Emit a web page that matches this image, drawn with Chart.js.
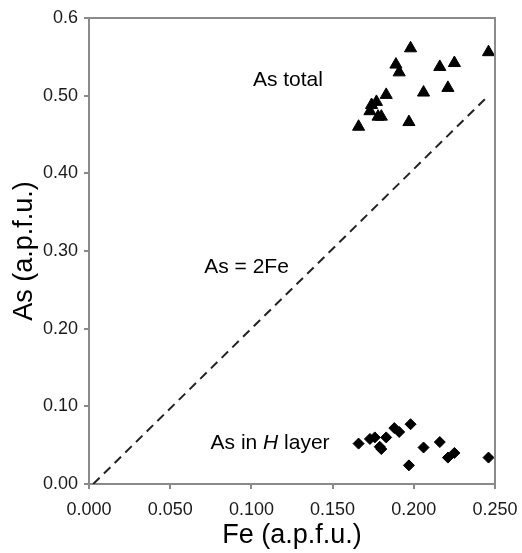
<!DOCTYPE html>
<html>
<head>
<meta charset="utf-8">
<script src="https://cdn.jsdelivr.net/npm/chart.js@4/dist/chart.umd.min.js"></script>
<style>
  html, body { margin: 0; padding: 0; background: #fff; }
  #wrap { width: 522px; height: 553px; position: relative; }
</style>
</head>
<body>
<div id="wrap"><canvas id="chart"></canvas></div>
<script>
// As total (triangles)
const feTotal = [0.198, 0.246, 0.225, 0.216, 0.189, 0.191, 0.221, 0.206, 0.183, 0.177, 0.174, 0.173, 0.178, 0.180, 0.197, 0.166];
const asTotal = [0.561, 0.556, 0.542, 0.537, 0.540, 0.530, 0.510, 0.504, 0.501, 0.492, 0.488, 0.480, 0.473, 0.473, 0.466, 0.460];

// As in H layer (diamonds)
const feH = [0.166, 0.173, 0.176, 0.179, 0.180, 0.183, 0.188, 0.191, 0.198, 0.197, 0.206, 0.216, 0.221, 0.225, 0.246];
const asH = [0.052, 0.058, 0.060, 0.048, 0.045, 0.060, 0.072, 0.067, 0.077, 0.024, 0.047, 0.054, 0.034, 0.040, 0.034];

// As = 2Fe reference line
const lineFe = [0.0026, 0.246];
const lineAs = [0, 0.5];

const xTickLabels = ["0.000", "0.050", "0.100", "0.150", "0.200", "0.250"];
const yTickLabels = ["0.00", "0.10", "0.20", "0.30", "0.40", "0.50", "0.6"];

// annotation text, anchored in data units
const notes = [
  { x: 0.1225, y: 0.520, parts: [["As total", "normal"]] },
  { x: 0.097, y: 0.279, parts: [["As = 2Fe", "normal"]] },
  { x: 0.1115, y: 0.053, parts: [["As in ", "normal"], ["H", "italic"], [" layer", "normal"]] }
];

const FONT = "'Liberation Sans', Arial, sans-serif";
const AXIS = "#8a8a8a";

function pts(xs, ys) {
  return xs.map((x, i) => ({ x: x, y: ys[i] }));
}

const framePlugin = {
  id: "frame",
  afterDatasetsDraw(chart) {
    const { ctx, chartArea: a, scales } = chart;
    ctx.save();
    ctx.strokeStyle = AXIS;
    ctx.lineWidth = 2;
    ctx.beginPath();
    ctx.moveTo(a.left, a.top);
    ctx.lineTo(a.right, a.top);
    ctx.lineTo(a.right, a.bottom);
    ctx.stroke();

    ctx.fillStyle = "#000";
    ctx.textBaseline = "middle";
    notes.forEach(n => {
      const cx = scales.x.getPixelForValue(n.x);
      const cy = scales.y.getPixelForValue(n.y);
      let total = 0;
      n.parts.forEach(p => {
        ctx.font = p[1] + " 21px " + FONT;
        total += ctx.measureText(p[0]).width;
      });
      let px = cx - total / 2;
      n.parts.forEach(p => {
        ctx.font = p[1] + " 21px " + FONT;
        ctx.textAlign = "left";
        ctx.fillText(p[0], px, cy);
        px += ctx.measureText(p[0]).width;
      });
    });
    ctx.restore();
  }
};

new Chart(document.getElementById("chart").getContext("2d"), {
  type: "scatter",
  data: {
    datasets: [
      {
        label: "As total",
        data: pts(feTotal, asTotal),
        pointStyle: "triangle",
        pointRadius: 7,
        backgroundColor: "#000",
        borderColor: "#000",
        borderWidth: 1
      },
      {
        label: "As in H layer",
        data: pts(feH, asH),
        pointStyle: "rectRot",
        pointRadius: 5.5,
        backgroundColor: "#000",
        borderColor: "#000",
        borderWidth: 1
      },
      {
        label: "As = 2Fe",
        type: "line",
        data: pts(lineFe, lineAs),
        showLine: true,
        borderColor: "#222",
        borderWidth: 2,
        borderDash: [9, 6],
        pointRadius: 0,
        fill: false
      }
    ]
  },
  options: {
    responsive: true,
    maintainAspectRatio: false,
    animation: false,
    layout: { padding: { top: 18, right: 27, left: 0, bottom: 0 } },
    plugins: {
      legend: { display: false },
      tooltip: { enabled: false }
    },
    scales: {
      x: {
        type: "linear",
        min: 0,
        max: 0.25,
        afterFit: s => { s.height = 69; s.paddingLeft = 0; s.paddingRight = 0; },
        ticks: {
          stepSize: 0.05,
          padding: 10,
          color: "#1a1a1a",
          font: { family: FONT, size: 18 },
          callback: (v, i) => xTickLabels[i]
        },
        grid: { drawOnChartArea: false, drawTicks: true, tickLength: 5, color: AXIS, lineWidth: 2 },
        border: { display: true, color: AXIS, width: 2 },
        title: {
          display: true,
          text: "Fe (a.p.f.u.)",
          color: "#000",
          font: { family: FONT, size: 27, lineHeight: 1.2 },
          padding: { top: 0, bottom: 1 }
        }
      },
      y: {
        type: "linear",
        min: 0,
        max: 0.6,
        afterFit: s => { s.width = 89; s.paddingTop = 0; s.paddingBottom = 0; },
        ticks: {
          stepSize: 0.1,
          padding: 6,
          color: "#1a1a1a",
          font: { family: FONT, size: 18 },
          callback: (v, i) => yTickLabels[i]
        },
        grid: { drawOnChartArea: false, drawTicks: true, tickLength: 5, color: AXIS, lineWidth: 2 },
        border: { display: true, color: AXIS, width: 2 },
        title: {
          display: true,
          text: "As (a.p.f.u.)",
          color: "#000",
          font: { family: FONT, size: 27, lineHeight: 1.2 },
          padding: { top: 8, bottom: 0 }
        }
      }
    }
  },
  plugins: [framePlugin]
});
</script>
</body>
</html>
